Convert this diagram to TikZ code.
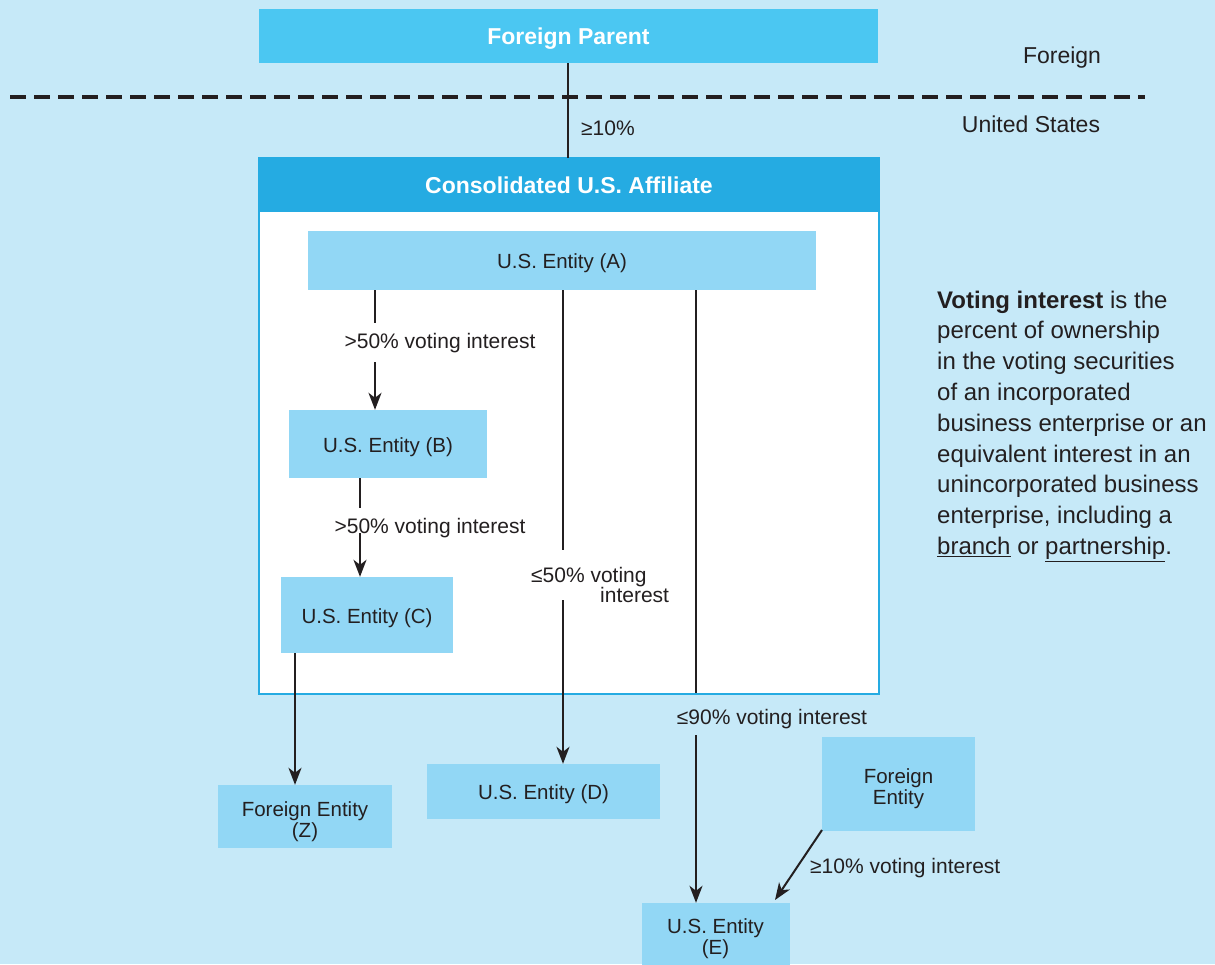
\documentclass[tikz,border=0pt]{standalone}
\usepackage{fontspec}
\setmainfont{Liberation Sans}
\usetikzlibrary{arrows.meta}
\definecolor{bg}{HTML}{C6E9F8}
\definecolor{fpblue}{HTML}{4BC7F2}
\definecolor{hdblue}{HTML}{25ABE2}
\definecolor{entblue}{HTML}{92D7F5}
\definecolor{ink}{HTML}{231F20}
\newcommand{\upstrut}{\rule{0pt}{21pt}}
\newcommand{\upstrutb}{\rule{0pt}{25pt}}
\tikzset{
  ent/.style={fill=entblue, inner sep=0pt, text=ink, align=center,
    font=\fontsize{20.5}{21}\selectfont},
  hdr/.style={inner sep=0pt, text=white, font=\bfseries\fontsize{23}{26}\selectfont},
  lab/.style={inner sep=0pt, text=ink, font=\fontsize{21}{20}\selectfont},
  side/.style={inner sep=0pt, text=ink, font=\fontsize{23}{26}\selectfont},
  conn/.style={draw=ink, line width=2pt},
  arr/.style={conn, -{Stealth[length=17pt,width=13pt,inset=5pt]}},
}
\begin{document}
\begin{tikzpicture}[x=1pt,y=-1pt]
\fill[bg] (0,0) rectangle (1215,964);
\useasboundingbox (0,0) rectangle (1215,964);

% Foreign parent
\node[hdr, fill=fpblue, minimum width=619pt, minimum height=54pt] (FP) at (568.5,36) {\upstrut Foreign Parent};
% dashed border
\coordinate (dl) at (10,97);
\coordinate (dr) at (1145,97);
\draw[ink, line width=4pt, dash pattern=on 16pt off 8pt] (dl) -- (dr);
\node[side] (lfor) at (1062,58) {Foreign};
\node[side] (lus) at (1031,124) {United States};

% consolidated affiliate
\node[draw=hdblue, line width=2pt, fill=white, minimum width=620pt, minimum height=536pt, inner sep=0pt] (CA) at (569,426) {};
\node[hdr, fill=hdblue, minimum width=622pt, minimum height=54pt] (CAH) at (569,185) {Consolidated U.S. Affiliate};

\draw[conn] (FP.south -| 568,0) -- (CAH.north -| 568,0);
\node[lab, anchor=west] (l10) at (581,128) {≥10\%};

% entities
\node[ent, minimum width=508pt, minimum height=59pt] (A) at (562,260.5) {\upstrut U.S. Entity (A)};
\node[ent, minimum width=198pt, minimum height=68pt] (B) at (388,444) {\upstrut U.S. Entity (B)};
\node[ent, minimum width=172pt, minimum height=76pt] (C) at (367,615) {\upstrut U.S. Entity (C)};
\node[ent, minimum width=233pt, minimum height=55pt] (D) at (543.5,791.5) {\upstrut U.S. Entity (D)};
\node[ent, minimum width=148pt, minimum height=62pt] (E) at (715.5,934) {\upstrutb U.S. Entity\\(E)};
\node[ent, minimum width=174pt, minimum height=63pt] (Z) at (305,816.5) {\upstrutb Foreign Entity\\(Z)};
\node[ent, minimum width=153pt, minimum height=94pt] (FE) at (898.5,784) {\upstrutb Foreign\\Entity};

% A -> B
\node[lab] (lab1) at (440,343) {>50\% voting interest};
\coordinate (ab1) at (375,323);
\coordinate (ab2) at (375,362);
\draw[conn] (A.south -| ab1) -- (ab1);
\draw[arr] (ab2) -- (B.north -| ab2);

% B -> C
\node[lab] (lab2) at (430,528) {>50\% voting interest};
\coordinate (bc1) at (360,508);
\coordinate (bc2) at (360,533);
\draw[conn] (B.south -| bc1) -- (bc1);
\draw[arr] (bc2) -- (C.north -| bc2);

% A -> D
\node[lab, anchor=north west, align=left, font=\fontsize{21}{20.5}\selectfont] (lab3) at (531,567) {≤50\% voting\\\hspace*{69pt}interest};
\coordinate (ad1) at (563,550);
\coordinate (ad2) at (563,600);
\draw[conn] (A.south -| ad1) -- (ad1);
\draw[arr] (ad2) -- (D.north -| ad2);

% A -> E
\node[lab] (lab4) at (772,719) {≤90\% voting interest};
\coordinate (ae1) at (696,693);
\coordinate (ae2) at (696,735);
\draw[conn] (A.south -| ae1) -- (ae1);
\draw[arr] (ae2) -- (E.north -| ae2);

% C -> Z
\coordinate (cz) at (295,0);
\draw[arr] (C.south -| cz) -- (Z.north -| cz);

% FE -> E
\coordinate (fe1) at (822,830);
\coordinate (fe2) at (775,900);
\draw[arr] (fe1) -- (fe2);
\node[lab, anchor=west] (lab5) at (810,868) {≥10\% voting interest};

% definition text
\node[anchor=north west, inner sep=0pt, align=left, text=ink,
  font=\fontsize{24}{30.8}\selectfont] (def) at (937,290.5)
  {\textbf{Voting interest} is the\\
   percent of ownership\\
   in the voting securities\\
   of an incorporated\\
   business enterprise or an\\
   equivalent interest in an\\
   unincorporated business\\
   enterprise, including a\\
   \underline{branch} or \underline{partnership}.};
\end{tikzpicture}
\end{document}
